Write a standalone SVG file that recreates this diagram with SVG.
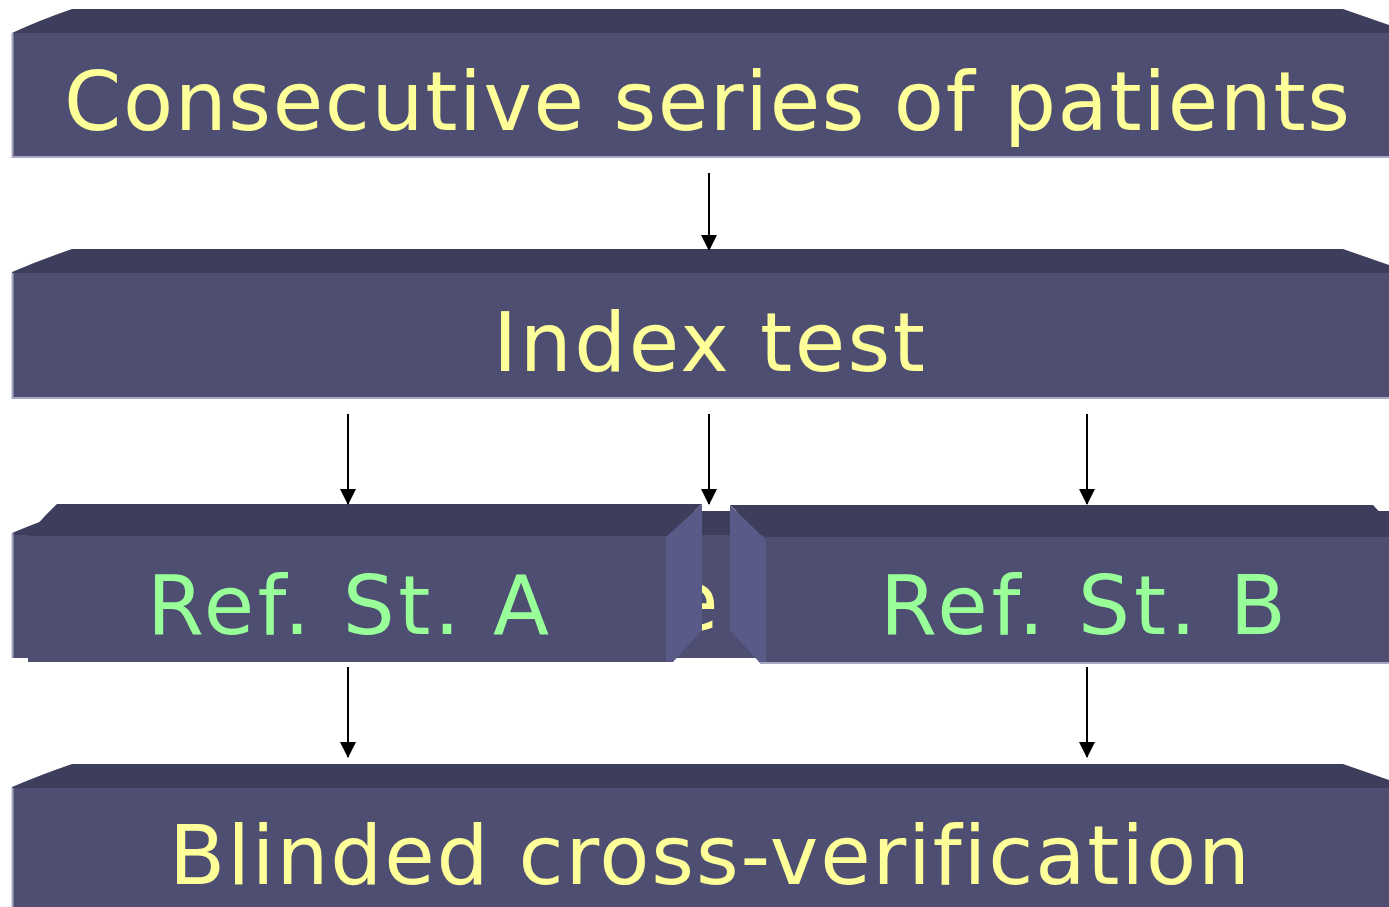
<svg xmlns="http://www.w3.org/2000/svg" width="1389" height="907" viewBox="0 0 1389 907">
<defs>
<style>
.top{fill:#3d3d5c}
.front{fill:#4e4e72}
.side{fill:#5a5a88}
.edge{stroke:#a8a8c4;stroke-width:2;fill:none}
.lbl{font-family:"DejaVu Sans","Verdana",sans-serif;font-size:82px;font-variant-ligatures:none;font-feature-settings:"liga" 0}
.y{fill:#ffff99}
.g{fill:#99ff99}
.conn{stroke:#000;stroke-width:2;fill:none;marker-end:url(#ah)}
</style>
<marker id="ah" markerUnits="userSpaceOnUse" markerWidth="16" markerHeight="16" viewBox="0 0 16 16" refX="15" refY="8" orient="auto">
<path d="M0,0 L16,8 L0,16 Z" fill="#000"/>
</marker>
</defs>
<rect width="1389" height="907" fill="#ffffff"/>

<g id="node-consecutive">
<path class="top" d="M12,33 Q40,20 72,9 L1343,9 L1389,25 L1389,34 L12,34 Z"/>
<rect class="front" x="12" y="33" width="1377" height="124"/>
<path class="edge" d="M12.5,33 V157 H1389"/>
<text class="lbl y" x="64" y="130" textLength="1286" lengthAdjust="spacing">Consecutive series of patients</text>
</g>

<g id="node-index">
<path class="top" d="M12,272 Q40,260 72,249 L1343,249 L1389,265 L1389,274 L12,274 Z"/>
<rect class="front" x="12" y="273" width="1377" height="125"/>
<path class="edge" d="M12.5,273 V398 H1389"/>
<text class="lbl y" x="493" y="371" textLength="432" lengthAdjust="spacing">Index test</text>
</g>

<g id="node-hidden">
<path class="top" d="M12,533 Q40,521 72,511 L1389,511 L1389,536 L12,536 Z"/>
<rect class="front" x="12" y="535" width="1377" height="123"/>
<path class="edge" d="M12.5,533 V658"/>
<text class="lbl y" x="668" y="630">e</text>
</g>

<g id="node-refA">
<path class="top" d="M28,536 Q40,520 57,504 L702,504 L666,537 L28,537 Z"/>
<rect class="front" x="28" y="536" width="638" height="126"/>
<path class="side" d="M666,537 L702,504 L702,630 L673,662 L666,662 Z"/>
<text class="lbl g" x="147" y="634" textLength="402" lengthAdjust="spacing">Ref. St. A</text>
</g>

<g id="node-refB">
<path class="top" d="M730,505 L1373,505 L1389,522 L1389,538 L766,538 Z"/>
<rect class="front" x="766" y="537" width="623" height="126"/>
<path class="side" d="M730,505 L766,540 L766,663 L760,663 L730,630 Z"/>
<path class="edge" d="M760,663 H1389" stroke-width="1.5"/>
<text class="lbl g" x="880" y="634" textLength="406" lengthAdjust="spacing">Ref. St. B</text>
</g>

<g id="node-blinded">
<path class="top" d="M12,787 Q40,775 72,764 L1343,764 L1389,780 L1389,789 L12,789 Z"/>
<rect class="front" x="12" y="788" width="1377" height="119"/>
<path class="edge" d="M12.5,788 V907"/>
<text class="lbl y" x="169" y="884" textLength="1081" lengthAdjust="spacing">Blinded cross-verification</text>
</g>

<g id="connectors">
<line class="conn" x1="709" y1="173" x2="709" y2="250"/>
<line class="conn" x1="348" y1="414" x2="348" y2="504"/>
<line class="conn" x1="709" y1="414" x2="709" y2="504"/>
<line class="conn" x1="1087" y1="414" x2="1087" y2="504"/>
<line class="conn" x1="348" y1="667" x2="348" y2="757"/>
<line class="conn" x1="1087" y1="667" x2="1087" y2="757"/>
</g>
</svg>
